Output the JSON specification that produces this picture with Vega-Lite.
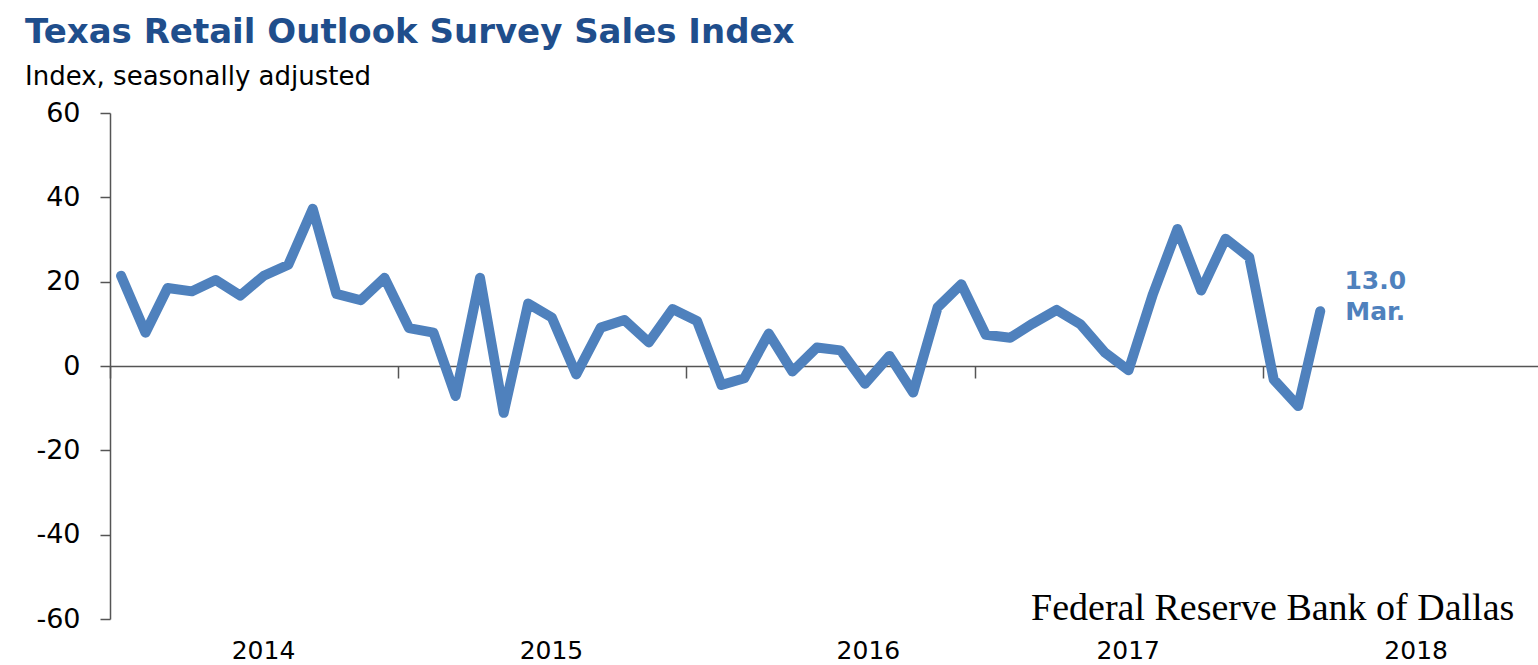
{
  "$schema": "https://vega.github.io/schema/vega-lite/v6.json",
  "width": 1428,
  "height": 506,
  "autosize": "none",
  "padding": {"left": 110, "top": 113, "right": 0, "bottom": 46},
  "background": "white",
  "config": {"view": {"stroke": null}, "font": "DejaVu Sans"},
  "title": {
    "text": "Texas Retail Outlook Survey Sales Index",
    "subtitle": "Index, seasonally adjusted",
    "anchor": "start",
    "frame": "group",
    "dx": -85,
    "font": "DejaVu Sans",
    "fontSize": 34,
    "fontWeight": "bold",
    "color": "#1F4E8C",
    "subtitleFont": "DejaVu Sans",
    "subtitleFontSize": 26,
    "subtitleColor": "#000000",
    "subtitlePadding": 14,
    "offset": 9
  },
  "datasets": {
    "sales": [
      {"date": "2014-01-15", "value": 21.4},
      {"date": "2014-02-15", "value": 7.9},
      {"date": "2014-03-15", "value": 18.5},
      {"date": "2014-04-15", "value": 17.7},
      {"date": "2014-05-15", "value": 20.4},
      {"date": "2014-06-15", "value": 16.7},
      {"date": "2014-07-15", "value": 21.4},
      {"date": "2014-08-15", "value": 24.0},
      {"date": "2014-09-15", "value": 37.3},
      {"date": "2014-10-15", "value": 17.1},
      {"date": "2014-11-15", "value": 15.6},
      {"date": "2014-12-15", "value": 20.9},
      {"date": "2015-01-15", "value": 9.0},
      {"date": "2015-02-15", "value": 7.9},
      {"date": "2015-03-15", "value": -7.1},
      {"date": "2015-04-15", "value": 20.9},
      {"date": "2015-05-15", "value": -11.1},
      {"date": "2015-06-15", "value": 14.8},
      {"date": "2015-07-15", "value": 11.5},
      {"date": "2015-08-15", "value": -2.0},
      {"date": "2015-09-15", "value": 9.1},
      {"date": "2015-10-15", "value": 10.9},
      {"date": "2015-11-15", "value": 5.6},
      {"date": "2015-12-15", "value": 13.5},
      {"date": "2016-01-15", "value": 10.7},
      {"date": "2016-02-15", "value": -4.5},
      {"date": "2016-03-15", "value": -2.9},
      {"date": "2016-04-15", "value": 7.7},
      {"date": "2016-05-15", "value": -1.3},
      {"date": "2016-06-15", "value": 4.4},
      {"date": "2016-07-15", "value": 3.7},
      {"date": "2016-08-15", "value": -4.2},
      {"date": "2016-09-15", "value": 2.4},
      {"date": "2016-10-15", "value": -6.3},
      {"date": "2016-11-15", "value": 13.9},
      {"date": "2016-12-15", "value": 19.4},
      {"date": "2017-01-15", "value": 7.4},
      {"date": "2017-02-15", "value": 6.7},
      {"date": "2017-03-15", "value": 10.0},
      {"date": "2017-04-15", "value": 13.3},
      {"date": "2017-05-15", "value": 9.9},
      {"date": "2017-06-15", "value": 3.2},
      {"date": "2017-07-15", "value": -1.0},
      {"date": "2017-08-15", "value": 17.1},
      {"date": "2017-09-15", "value": 32.5},
      {"date": "2017-10-15", "value": 17.9},
      {"date": "2017-11-15", "value": 30.2},
      {"date": "2017-12-15", "value": 25.8},
      {"date": "2018-01-15", "value": -3.2},
      {"date": "2018-02-15", "value": -9.5},
      {"date": "2018-03-15", "value": 13.0}
    ],
    "note": [{"date": "2018-03-15", "value": 13.0, "label": ["13.0", "Mar."]}],
    "credit": [{"text": "Federal Reserve Bank of Dallas"}]
  },
  "layer": [
    {
      "data": {"name": "sales"},
      "mark": {"type": "line", "color": "#4F81BD", "strokeWidth": 10, "strokeJoin": "round", "strokeCap": "round"},
      "encoding": {
        "x": {
          "field": "date",
          "type": "temporal",
          "scale": {"type": "utc", "domain": [{"year": 2014, "month": 1, "date": 1, "utc": true}, {"year": 2018, "month": 12, "date": 16, "utc": true}]},
          "axis": {
            "orient": "bottom",
            "title": null,
            "format": "%Y",
            "tickCount": "year",
            "domain": false,
            "ticks": false,
            "grid": false,
            "labelFlush": false,
            "labelOverlap": false,
            "labelPadding": 19,
            "labelFontSize": 25,
            "labelFont": "DejaVu Sans",
            "labelColor": "#000000",
            "labelOffset": {"condition": {"test": "utcyear(datum.value) == 2016", "value": 182}, "value": 153}
          }
        },
        "y": {
          "field": "value",
          "type": "quantitative",
          "scale": {"domain": [-60, 60], "nice": false},
          "axis": {
            "title": null,
            "values": [-60, -40, -20, 0, 20, 40, 60],
            "labelExpr": "'' + datum.value",
            "grid": false,
            "tickSize": 10,
            "labelPadding": 20,
            "labelFontSize": 27,
            "labelFont": "DejaVu Sans",
            "labelColor": "#000000",
            "domainColor": "#555555",
            "tickColor": "#555555",
            "domainWidth": 1.5,
            "tickWidth": 1.5
          }
        }
      }
    },
    {
      "data": {"name": "note"},
      "mark": {"type": "text", "font": "DejaVu Sans", "fontWeight": "bold", "fontSize": 25, "color": "#4F81BD", "align": "center", "baseline": "middle", "lineHeight": 31, "dx": 55, "dy": -30},
      "encoding": {
        "x": {
          "field": "date",
          "type": "temporal",
          "axis": {
            "orient": "bottom",
            "title": null,
            "offset": -253,
            "labels": false,
            "ticks": true,
            "tickSize": 12,
            "tickCount": "year",
            "domain": true,
            "grid": false,
            "domainColor": "#555555",
            "domainWidth": 1.5,
            "tickColor": "#555555",
            "tickWidth": 1.5
          }
        },
        "y": {"field": "value", "type": "quantitative"},
        "text": {"field": "label"}
      }
    },
    {
      "data": {"name": "credit"},
      "mark": {"type": "text", "font": "Liberation Serif", "fontSize": 38, "color": "#000000", "align": "right", "baseline": "alphabetic"},
      "encoding": {
        "x": {"datum": {"year": 2018, "month": 11, "date": 16, "utc": true}, "type": "temporal", "axis": null},
        "y": {"datum": -60.2, "type": "quantitative"},
        "text": {"field": "text"}
      }
    }
  ],
  "resolve": {"axis": {"x": "independent"}}
}
